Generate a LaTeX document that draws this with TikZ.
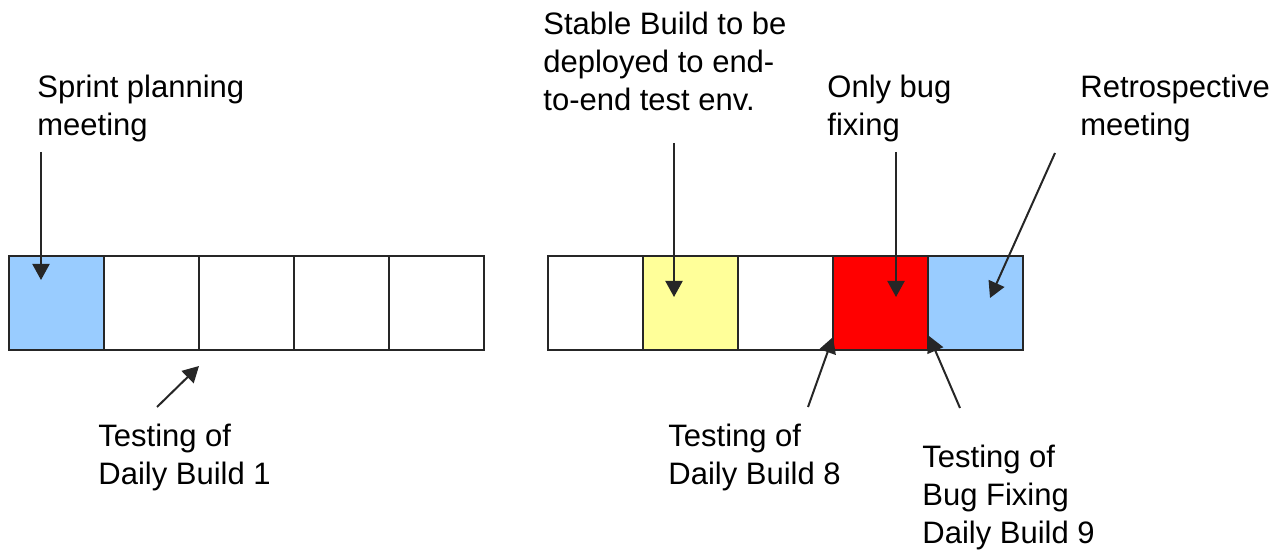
\documentclass[tikz,border=0pt]{standalone}
\usepackage{fontspec}
\setmainfont{Liberation Sans}
\usetikzlibrary{arrows.meta,calc}
\definecolor{planblue}{RGB}{153,204,255}
\definecolor{stableyellow}{RGB}{255,255,153}
\definecolor{fixred}{RGB}{255,0,0}
\tikzset{
  daybox/.style={draw=black!85, line width=1.3pt, minimum width=47.5pt, minimum height=47pt,
                 inner sep=0pt, outer sep=0pt},
  note/.style={anchor=north west, inner sep=0pt, align=left, font=\fontsize{15.5}{19}\selectfont},
  ptr/.style={-{Triangle[length=8pt,width=8.5pt]}, line width=1pt, black!85}
}
\begin{document}
\begin{tikzpicture}[x=0.5pt, y=-0.5pt]
  \useasboundingbox (0,0) rectangle (1279,550);

  % first and last week of the sprint
  \foreach \i/\c in {1/planblue,2/white,3/white,4/white,5/white}
    \node[daybox, fill=\c] (a\i) at ({95*\i-38.5},303) {};
  \foreach \i/\c in {1/white,2/stableyellow,3/white,4/fixred,5/planblue}
    \node[daybox, fill=\c] (b\i) at ({95*\i+500.5},303) {};

  % labels
  \node[note] (splan) at (37,75) {Sprint planning\\meeting};
  \node[note] (tdb1) at (98,424) {Testing of\\Daily Build 1};
  \node[note] (stable) at (543,12) {Stable Build to be\\deployed to end-\\to-end test env.};
  \node[note] (onlybug) at (827,75) {Only bug\\fixing};
  \node[note] (retro) at (1080,75) {Retrospective\\meeting};
  \node[note] (tdb8) at (668,424) {Testing of\\Daily Build 8};
  \node[note] (tdb9) at (922,445) {Testing of\\Bug Fixing\\Daily Build 9};

  \coordinate (splan-t) at (41,152);
  \coordinate (tdb1-t) at (157,407);
  \coordinate (stable-t) at (674,143);
  \coordinate (onlybug-t) at (896,152);
  \coordinate (retro-t) at (1055,153);
  \coordinate (tdb8-t) at (808,407);
  \coordinate (tdb9-t) at (960,408);

  \draw[ptr] (splan-t) -- ($(a1.north west)+(32,24)$);
  \draw[ptr] (tdb1-t) -- ($(a2.south east)+(0,16)$);
  \draw[ptr] (stable-t) -- ($(b2.north west)+(31,41)$);
  \draw[ptr] (onlybug-t) -- ($(b4.north west)+(63,41)$);
  \draw[ptr] (retro-t) -- ($(b5.north west)+(62,42)$);
  \draw[ptr] (tdb8-t) -- ($(b4.south west)+(0,-13)$);
  \draw[ptr] (tdb9-t) -- ($(b4.south east)+(1,-14)$);
\end{tikzpicture}
\end{document}
